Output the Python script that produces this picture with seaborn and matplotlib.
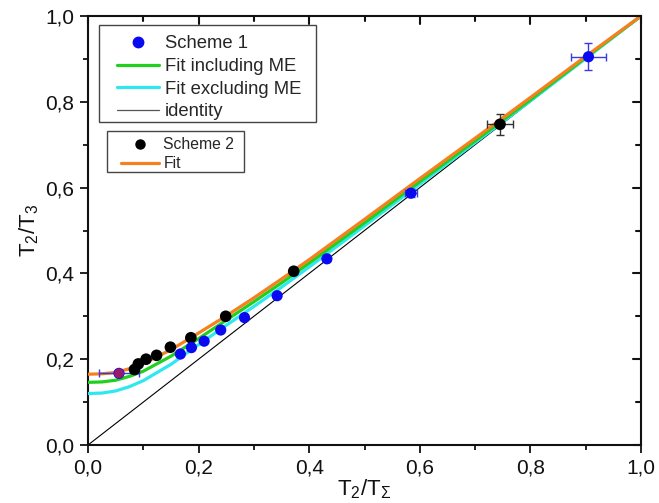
import numpy as np
import pandas as pd
import matplotlib
matplotlib.use("Agg")
import matplotlib.pyplot as plt
import matplotlib.transforms as mtransforms
import seaborn as sns
from matplotlib.ticker import FuncFormatter
from matplotlib.lines import Line2D
from matplotlib.patches import Rectangle

# ---------------- data ----------------
# Scheme 1 (blue points)
s1_x = [0.056, 0.167, 0.187, 0.210, 0.240, 0.283, 0.342, 0.432, 0.584, 0.905]
s1_y = [0.167, 0.212, 0.227, 0.242, 0.268, 0.297, 0.348, 0.434, 0.587, 0.905]
s1_xerr = [0.036, 0.0, 0.0, 0.0, 0.0, 0.0, 0.0, 0.004, 0.011, 0.032]
s1_yerr = [0.0, 0.0, 0.0, 0.0, 0.0, 0.0, 0.0, 0.004, 0.010, 0.032]

# Scheme 2 (black points)
s2_x = [0.084, 0.091, 0.105, 0.124, 0.149, 0.186, 0.249, 0.372, 0.745]
s2_y = [0.176, 0.189, 0.200, 0.209, 0.228, 0.250, 0.300, 0.405, 0.7475]
s2_xerr = [0.0, 0.0, 0.0, 0.0, 0.0, 0.0, 0.0, 0.0, 0.024]
s2_yerr = [0.0, 0.0, 0.0, 0.0, 0.0, 0.0, 0.0, 0.0, 0.024]

# Fit curves
fit_x      = [0.0, 0.025, 0.05, 0.075, 0.1, 0.15, 0.2, 0.25, 0.3, 0.35, 0.4, 0.5, 0.6, 0.7, 0.8, 0.9, 1.0]
fit_incl   = [0.146, 0.147, 0.151, 0.160, 0.172, 0.207, 0.248, 0.291, 0.334, 0.378, 0.424, 0.518, 0.614, 0.709, 0.805, 0.903, 1.0]
fit_excl   = [0.120, 0.121, 0.126, 0.136, 0.150, 0.188, 0.234, 0.279, 0.323, 0.368, 0.415, 0.511, 0.608, 0.705, 0.802, 0.901, 1.0]
fit_s2     = [0.165, 0.166, 0.169, 0.178, 0.190, 0.222, 0.261, 0.301, 0.343, 0.387, 0.432, 0.526, 0.621, 0.715, 0.810, 0.906, 1.0]
identity_x = [0.0, 1.0]
identity_y = [0.0, 1.0]

x_ticks = [0.0, 0.2, 0.4, 0.6, 0.8, 1.0]
y_ticks = [0.0, 0.2, 0.4, 0.6, 0.8, 1.0]
minor_ticks = [0.1, 0.3, 0.5, 0.7, 0.9]

# ---------------- style ----------------
sns.set_theme(style="ticks")
plt.rcParams["font.family"] = ["Liberation Sans", "DejaVu Sans"]
plt.rcParams["mathtext.fontset"] = "custom"
plt.rcParams["mathtext.rm"] = "Liberation Sans"
plt.rcParams["mathtext.it"] = "Liberation Sans"
plt.rcParams["mathtext.default"] = "regular"

BLUE = "#0a0af0"
BLUE_ERR = "#3a3ae0"
GREEN = "#1fd01f"
CYAN = "#2ee8f0"
ORANGE = "#f7801e"
INK = "#111111"

W, H = 659, 503
AX_L, AX_R, AX_T, AX_B = 88, 641, 16, 445
fig = plt.figure(figsize=(W / 100, H / 100), dpi=100)
rect = [AX_L / W, 1 - AX_B / H, (AX_R - AX_L) / W, (AX_B - AX_T) / H]
ax = fig.add_axes(rect)

df_fit = pd.DataFrame({"x": fit_x, "incl": fit_incl, "excl": fit_excl, "s2": fit_s2})
df_id = pd.DataFrame({"x": identity_x, "y": identity_y})

sns.lineplot(data=df_id, x="x", y="y", ax=ax, color="black", lw=0.8, zorder=2)
sns.lineplot(data=df_fit, x="x", y="excl", ax=ax, color=CYAN, lw=2.3, zorder=3)
sns.lineplot(data=df_fit, x="x", y="incl", ax=ax, color=GREEN, lw=2.3, zorder=3)
sns.lineplot(data=df_fit, x="x", y="s2", ax=ax, color=ORANGE, lw=2.3, zorder=4)

# error bars
ax.errorbar(s1_x, s1_y, xerr=s1_xerr, yerr=s1_yerr, fmt="none", ecolor=BLUE_ERR,
            elinewidth=1.0, capsize=3, capthick=1.0, zorder=5)
ax.errorbar(s2_x, s2_y, xerr=s2_xerr, yerr=s2_yerr, fmt="none", ecolor="#333333",
            elinewidth=1.0, capsize=3, capthick=1.0, zorder=5)

df1 = pd.DataFrame({"x": s1_x, "y": s1_y})
df2 = pd.DataFrame({"x": s2_x, "y": s2_y})
sns.scatterplot(data=df2, x="x", y="y", ax=ax, color="black", s=70, edgecolor="none", zorder=6)
sns.scatterplot(data=df1, x="x", y="y", ax=ax, color=BLUE, s=65, edgecolor="none", zorder=7)
ax.scatter([s1_x[0]], [s1_y[0]], color="#9a1a6a", s=50, edgecolor="none", zorder=8)

ax.set_xlim(0, 1)
ax.set_ylim(0, 1)
ax.set_xticks(x_ticks)
ax.set_yticks(y_ticks)
ax.set_xticks(minor_ticks, minor=True)
ax.set_yticks(minor_ticks, minor=True)
fmt = FuncFormatter(lambda v, p: f"{v:.1f}".replace(".", ","))
ax.xaxis.set_major_formatter(fmt)
ax.yaxis.set_major_formatter(fmt)

for s in ax.spines.values():
    s.set_visible(True)
    s.set_linewidth(1.5)
    s.set_color(INK)

ax.tick_params(axis="both", which="major", labelsize=15, length=6, width=1.3,
               color=INK, labelcolor=INK, pad=4)
ax.tick_params(axis="both", which="minor", length=3.5, width=1.3, color=INK)
ax.tick_params(axis="x", which="both", direction="out", bottom=True, top=False)
ax.tick_params(axis="y", which="both", direction="out", left=True, right=False)

# inward ticks on the top and right sides
ax_w, ax_h = AX_R - AX_L, AX_B - AX_T
tr_top = mtransforms.blended_transform_factory(ax.transData, ax.transAxes)
tr_right = mtransforms.blended_transform_factory(ax.transAxes, ax.transData)
for vals, ln in ((x_ticks, 8.0), (minor_ticks, 5.0)):
    for v in vals:
        ax.add_line(Line2D([v, v], [1 - ln / ax_h, 1], transform=tr_top, color=INK,
                           lw=1.5, clip_on=False, zorder=9))
for vals, ln in ((y_ticks, 8.0), (minor_ticks, 5.0)):
    for v in vals:
        ax.add_line(Line2D([1 - ln / ax_w, 1], [v, v], transform=tr_right, color=INK,
                           lw=1.5, clip_on=False, zorder=9))

ax.set_xlabel("T$_2$/T$_\u03a3$", fontsize=16, color=INK, labelpad=0)
ax.set_ylabel("T$_2$/T$_3$", fontsize=16, color=INK, labelpad=3)

# legend frames (drawn as rectangles in figure pixels)
def frame(x0, y0, x1, y1):
    fig.add_artist(Rectangle((x0 / W, 1 - y1 / H), (x1 - x0) / W, (y1 - y0) / H,
                             transform=fig.transFigure, facecolor="white",
                             edgecolor="#444444", lw=1.0, zorder=20))

frame(99, 25, 316, 122)
frame(107, 131, 244, 172)

h1 = [Line2D([], [], ls="none", marker="o", color=BLUE, markersize=7.5),
      Line2D([], [], color=GREEN, lw=2.3),
      Line2D([], [], color=CYAN, lw=2.3),
      Line2D([], [], color="#555555", lw=0.9)]
l1 = ["Scheme 1", "Fit including ME", "Fit excluding ME", "identity"]
leg1 = fig.legend(h1, l1, loc="upper left", bbox_to_anchor=(117 / W, 1 - 35.5 / H),
                  bbox_transform=fig.transFigure, fontsize=13.3, frameon=False,
                  borderpad=0, labelspacing=0.3, handlelength=2.3, handletextpad=0.3,
                  borderaxespad=0)
leg1.set_zorder(21)

h2 = [Line2D([], [], ls="none", marker="o", color="black", markersize=6.5),
      Line2D([], [], color=ORANGE, lw=2.3)]
l2 = ["Scheme 2", "Fit"]
leg2 = fig.legend(h2, l2, loc="upper left", bbox_to_anchor=(121 / W, 1 - 137 / H),
                  bbox_transform=fig.transFigure, fontsize=11.3, frameon=False,
                  borderpad=0, labelspacing=0.28, handlelength=2.4, handletextpad=0.3,
                  borderaxespad=0)
leg2.set_zorder(21)

fig.savefig("out.png", dpi=100)
